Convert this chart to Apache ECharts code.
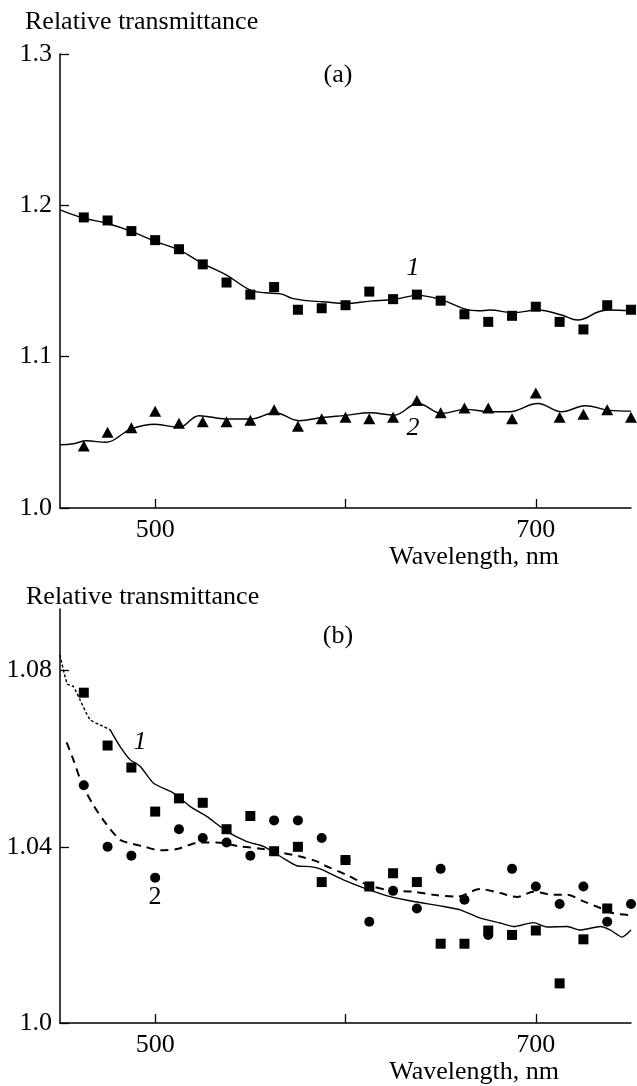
<!DOCTYPE html>
<html>
<head>
<meta charset="utf-8">
<script src="https://cdn.jsdelivr.net/npm/echarts@6/dist/echarts.min.js"></script>
<style>
  html, body { margin: 0; padding: 0; background: #fff; }
  #chart { width: 637px; height: 1086px; }
</style>
</head>
<body>
<div id="chart"></div>
<script>
// wavelengths of the measured points, nm
var wl = [462.5, 475, 487.5, 500, 512.5, 525, 537.5, 550, 562.5, 575, 587.5, 600,
          612.5, 625, 637.5, 650, 662.5, 675, 687.5, 700, 712.5, 725, 737.5, 750];

// panel (a): points
var sqA  = [1.192, 1.190, 1.183, 1.177, 1.171, 1.161, 1.149, 1.141, 1.146, 1.131, 1.132, 1.134,
            1.143, 1.138, 1.141, 1.137, 1.128, 1.123, 1.127, 1.133, 1.123, 1.118, 1.134, 1.131];
var triA = [1.041, 1.050, 1.053, 1.064, 1.056, 1.057, 1.057, 1.058, 1.065, 1.054, 1.059, 1.060,
            1.059, 1.060, 1.071, 1.063, 1.066, 1.066, 1.059, 1.076, 1.060, 1.062, 1.065, 1.060];
// panel (a): curves
var curveA1 = [[450,1.197],[462.5,1.1915],[475,1.188],[487.5,1.1828],[500,1.1762],[512.5,1.1705],
  [525,1.1615],[537.5,1.1539],[550,1.144],[558,1.1422],[566,1.1415],[572,1.1385],[580,1.137],
  [588,1.1363],[600,1.1352],[613,1.1367],[625.5,1.1378],[638,1.1405],[650.7,1.1374],[663,1.1314],
  [670,1.1303],[676,1.1308],[688,1.129],[701,1.1308],[713.6,1.1275],[722,1.1242],[733,1.1297],
  [738,1.1308],[750,1.1303]];
var curveA2 = [[450,1.0418],[457,1.0425],[464,1.0444],[474,1.0434],[487,1.052],[500,1.0553],
  [512.5,1.0533],[523,1.061],[537.5,1.0588],[550,1.0588],[563,1.0629],[575.5,1.0577],[588,1.0598],
  [600,1.0612],[613,1.0629],[625.5,1.0614],[638,1.0691],[650.7,1.0625],[663,1.0652],[676,1.0636],
  [686,1.0636],[701,1.0691],[713.6,1.0636],[726,1.0676],[738,1.0647],[750,1.064]];

// panel (b): points
var sqB   = [1.075, 1.063, 1.058, 1.048, 1.051, 1.050, 1.044, 1.047, 1.039, 1.040, 1.032, 1.037,
             1.031, 1.034, 1.032, 1.018, 1.018, 1.021, 1.020, 1.021, 1.009, 1.019, 1.026, null];
var circB = [1.054, 1.040, 1.038, 1.033, 1.044, 1.042, 1.041, 1.038, 1.046, 1.046, 1.042, 1.037,
             1.023, 1.030, 1.026, 1.035, 1.028, 1.020, 1.035, 1.031, 1.027, 1.031, 1.023, 1.027];
// panel (b): curves (curve 1 starts dotted)
var curveB1dot = [[450,1.0836],[453.8,1.077],[457,1.0764],[460.5,1.0734],[465.8,1.0689],[471,1.0677],[476.3,1.0666]];
var curveB1 = [[476.3,1.0666],[481.5,1.0628],[486.8,1.0598],[492.1,1.0583],[499,1.0545],[509.6,1.0522],
  [518.3,1.0492],[527.1,1.0469],[537.6,1.0435],[548.2,1.0412],[556.9,1.0401],[567.4,1.0374],
  [574.4,1.0357],[581.4,1.0355],[586.7,1.035],[598.9,1.0325],[611.3,1.0304],[623.5,1.0287],
  [635.8,1.0276],[649.8,1.0266],[660.3,1.0257],[670.8,1.0238],[681.3,1.0227],[688.3,1.0219],
  [698.8,1.0228],[705.9,1.0218],[716.4,1.0219],[723.4,1.0211],[733.9,1.0219],[739.2,1.0211],
  [745.3,1.0195],[750,1.0211]];
var curveB2 = [[453.5,1.0637],[457,1.0598],[461.4,1.0545],[467.5,1.0495],[474.6,1.045],[481.5,1.0416],
  [485.1,1.041],[493.8,1.0401],[502.6,1.0392],[511.4,1.0395],[523.6,1.041],[532.4,1.041],
  [544.6,1.0401],[556.9,1.0395],[567.4,1.0386],[576.2,1.0378],[585,1.0367],[588.4,1.0359],
  [600.7,1.0336],[611.3,1.0314],[623.5,1.0301],[635.8,1.0298],[646.3,1.0291],[658.6,1.0287],
  [670.8,1.0304],[681.3,1.0295],[690.1,1.0286],[698.8,1.0298],[709.4,1.0291],[716.4,1.0291],
  [725.1,1.0276],[733.9,1.0261],[740.9,1.0249],[750,1.0245]];

// ticks
var xTicks = [500, 600, 700];
var xLabels = [500, 700];
var yTicksB = [1.0, 1.04, 1.08];

var FONT = '"Liberation Serif", "Times New Roman", serif';
var FS = 26;

function pairs(xs, ys) {
    var out = [];
    for (var i = 0; i < xs.length; i++) {
        if (ys[i] != null) out.push([xs[i], ys[i]]);
    }
    return out;
}

function xAxisOf(g) {
    return {
        gridIndex: g, type: 'value', min: 450, max: 750,
        axisLine: {show: true, onZero: false, lineStyle: {color: '#000', width: 1.5}},
        axisTick: {show: true, inside: true, length: 9, customValues: xTicks, lineStyle: {color: '#000', width: 1.3}},
        axisLabel: {customValues: xLabels, margin: 9, color: '#000', fontFamily: FONT, fontSize: FS},
        splitLine: {show: false}
    };
}

var axisTxt = {color: '#000', fontFamily: FONT, fontSize: FS, margin: 8};
var lineBase = {type: 'line', showSymbol: false, symbol: 'none', silent: true};
var dot = {color: '#000', opacity: 1};

function txt(s, x, y, align, italic) {
    return {
        type: 'text', x: x, y: y,
        style: {
            text: s, fill: '#000',
            font: (italic ? 'italic ' : '') + FS + 'px ' + FONT,
            textAlign: align, align: align,
            textVerticalAlign: 'middle', verticalAlign: 'middle'
        }
    };
}

var option = {
    animation: false,
    backgroundColor: '#fff',
    grid: [
        {left: 60, top: 54, width: 571, height: 454, outerBoundsMode: 'none'},
        {left: 60, top: 609, width: 571, height: 414, outerBoundsMode: 'none'}
    ],
    xAxis: [xAxisOf(0), xAxisOf(1)],
    yAxis: [
        {
            gridIndex: 0, type: 'value', min: 1, max: 1.3, interval: 0.1,
            axisLine: {show: true, onZero: false, lineStyle: {color: '#000', width: 1.5}},
            axisTick: {show: true, inside: true, length: 9, lineStyle: {color: '#000', width: 1.3}},
            axisLabel: Object.assign({formatter: function (v) { return v.toFixed(1); }}, axisTxt),
            splitLine: {show: false}
        },
        {
            gridIndex: 1, type: 'value', min: 1, max: 1.094,
            axisLine: {show: true, onZero: false, lineStyle: {color: '#000', width: 1.5}},
            axisTick: {show: true, inside: true, length: 9, customValues: yTicksB, lineStyle: {color: '#000', width: 1.3}},
            axisLabel: Object.assign({customValues: yTicksB,
                formatter: function (v) { return v === 1 ? '1.0' : String(+v.toFixed(2)); }}, axisTxt),
            splitLine: {show: false}
        }
    ],
    graphic: [
        txt('Relative transmittance', 25, 22, 'left'),
        txt('(a)', 338, 75, 'center'),
        txt('Wavelength, nm', 559, 557, 'right'),
        txt('1', 413, 268, 'center', true),
        txt('2', 413, 428, 'center', true),
        txt('Relative transmittance', 26, 597, 'left'),
        txt('(b)', 338, 636, 'center'),
        txt('Wavelength, nm', 559, 1072, 'right'),
        txt('1', 140, 742, 'center', true),
        txt('2', 155, 897, 'center', false)
    ],
    series: [
        Object.assign({xAxisIndex: 0, yAxisIndex: 0, data: curveA1, smooth: 0.4,
            lineStyle: {color: '#000', width: 1.4}}, lineBase),
        Object.assign({xAxisIndex: 0, yAxisIndex: 0, data: curveA2, smooth: 0.4,
            lineStyle: {color: '#000', width: 1.4}}, lineBase),
        {type: 'scatter', xAxisIndex: 0, yAxisIndex: 0, data: pairs(wl, sqA),
            symbol: 'rect', symbolSize: 10, itemStyle: dot},
        {type: 'scatter', xAxisIndex: 0, yAxisIndex: 0, data: pairs(wl, triA),
            symbol: 'triangle', symbolSize: [12, 11], itemStyle: dot},

        Object.assign({xAxisIndex: 1, yAxisIndex: 1, data: curveB1dot, smooth: 0.2,
            lineStyle: {color: '#000', width: 1.4, type: [3, 2]}}, lineBase),
        Object.assign({xAxisIndex: 1, yAxisIndex: 1, data: curveB1, smooth: 0.2,
            lineStyle: {color: '#000', width: 1.4}}, lineBase),
        Object.assign({xAxisIndex: 1, yAxisIndex: 1, data: curveB2, smooth: 0.3,
            lineStyle: {color: '#000', width: 2, type: [8, 6]}}, lineBase),
        {type: 'scatter', xAxisIndex: 1, yAxisIndex: 1, data: pairs(wl, sqB),
            symbol: 'rect', symbolSize: 10, itemStyle: dot},
        {type: 'scatter', xAxisIndex: 1, yAxisIndex: 1, data: pairs(wl, circB),
            symbol: 'circle', symbolSize: 10, itemStyle: dot}
    ]
};

var myChart = echarts.init(document.getElementById('chart'), null, {renderer: 'canvas'});
myChart.setOption(option);
</script>
</body>
</html>
